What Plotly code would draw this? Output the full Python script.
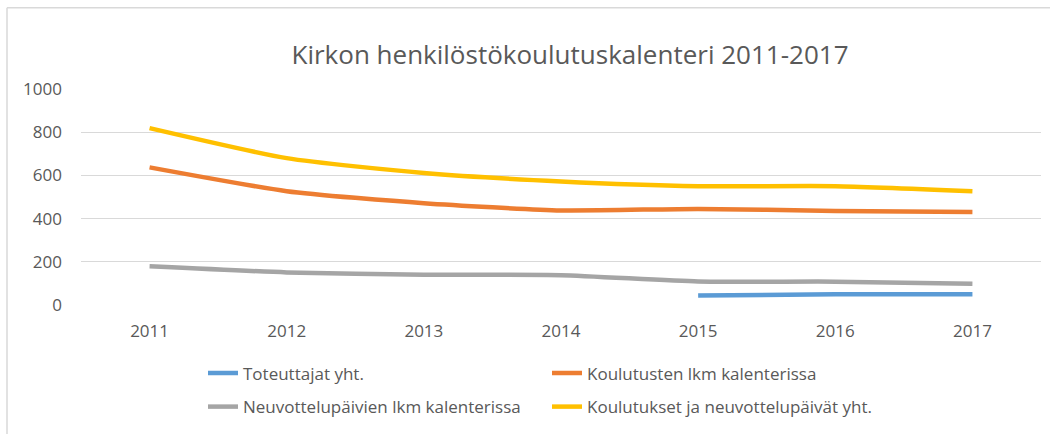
import plotly.graph_objects as go

years = ["2011", "2012", "2013", "2014", "2015", "2016", "2017"]
toteuttajat = [None, None, None, None, 44, 50, 50]
koulutusten = [637, 527, 471, 438, 445, 435, 430]
neuvottelu = [179, 151, 140, 138, 109, 108, 98]
yhteensa = [819, 680, 611, 572, 550, 550, 527]
y_ticks = [0, 200, 400, 600, 800, 1000]

series = [
    ("Toteuttajat yht.", toteuttajat, "#5B9BD5", "legend"),
    ("Koulutusten lkm kalenterissa", koulutusten, "#ED7D31", "legend"),
    ("Neuvottelupäivien lkm kalenterissa", neuvottelu, "#A5A5A5", "legend2"),
    ("Koulutukset ja neuvottelupäivät yht.", yhteensa, "#FFC000", "legend2"),
]

FONT = "Open Sans, Liberation Sans, sans-serif"
TXT = "#595959"

fig = go.Figure()
for name, vals, color, lg in series:
    fig.add_trace(go.Scatter(
        x=years, y=vals, name=name, mode="lines",
        line=dict(color=color, width=4.5, shape="spline", smoothing=0.6),
        legend=lg, connectgaps=False,
    ))

L, R, T, B = 81, 9, 89, 127
W, H = 1050, 434
pw, ph = W - L - R, H - T - B

def px_x(x):
    return (x - L) / pw

def px_y(y):
    return (H - B - y) / ph

legend_common = dict(
    orientation="h", xanchor="left", yanchor="middle",
    font=dict(family=FONT, size=17, color=TXT),
    bgcolor="rgba(0,0,0,0)", entrywidth=299, entrywidthmode="pixels",
    itemclick=False,
)

fig.update_layout(
    width=W, height=H,
    margin=dict(l=L, r=R, t=T, b=B),
    paper_bgcolor="white", plot_bgcolor="white",
    font=dict(family=FONT, color=TXT),
    title=dict(
        text="Kirkon henkilöstökoulutuskalenteri 2011-2017",
        font=dict(family=FONT, size=26, color=TXT),
        x=570 / W, xanchor="center", xref="container",
        y=1 - 55 / H, yanchor="middle", yref="container",
    ),
    xaxis=dict(
        type="category", range=[-0.5, 6.5], showgrid=False, showline=False,
        ticks="", tickfont=dict(family=FONT, size=17, color=TXT),
        ticklabelstandoff=14,
    ),
    yaxis=dict(
        range=[0, 1000], tickvals=y_ticks, showgrid=True, gridcolor="#D9D9D9",
        gridwidth=1.3, zeroline=False, showline=False, ticks="",
        tickfont=dict(family=FONT, size=17, color=TXT), ticklabelstandoff=18,
    ),
    legend=dict(x=px_x(203), y=px_y(376), **legend_common),
    legend2=dict(x=px_x(203), y=px_y(410), **legend_common),
    showlegend=True,
)

# chart-area border (left and top edges visible)
bx, by = px_x(7), px_y(7)
fig.add_shape(type="line", xref="paper", yref="paper", x0=bx, x1=bx,
              y0=px_y(450), y1=by, line=dict(color="#D9D9D9", width=1.5))
fig.add_shape(type="line", xref="paper", yref="paper", x0=bx, x1=px_x(1060),
              y0=by, y1=by, line=dict(color="#D9D9D9", width=1.5))

fig.write_html(
    "out.html",
    config={"displayModeBar": False},
    post_script="document.body.style.margin='0';document.body.style.overflow='hidden';",
)
